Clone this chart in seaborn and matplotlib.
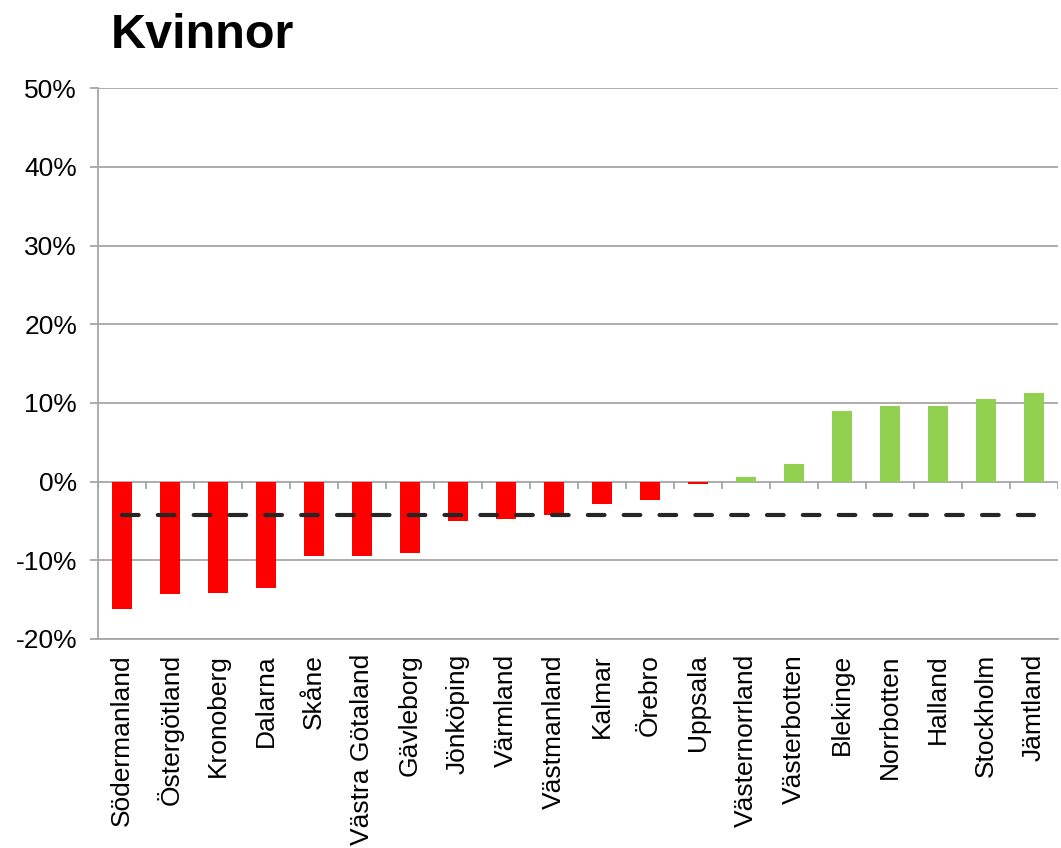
import matplotlib
matplotlib.use("Agg")
import matplotlib.pyplot as plt
import numpy as np
import pandas as pd
import seaborn as sns

# data (change vs. reference, in %)
lan = ["Södermanland", "Östergötland", "Kronoberg", "Dalarna", "Skåne",
       "Västra Götaland", "Gävleborg", "Jönköping", "Värmland", "Västmanland",
       "Kalmar", "Örebro", "Uppsala", "Västernorrland", "Västerbotten",
       "Blekinge", "Norrbotten", "Halland", "Stockholm", "Jämtland"]
andel = [-16.2, -14.3, -14.2, -13.5, -9.5, -9.4, -9.1, -5.0, -4.7, -4.2,
         -2.9, -2.3, -0.3, 0.6, 2.2, 9.0, 9.6, 9.6, 10.5, 11.3]
riket = -4.25
y_ticks = [-20, -10, 0, 10, 20, 30, 40, 50]

sns.set_theme(style="white")
plt.rcParams["font.family"] = ["Liberation Sans", "DejaVu Sans"]
plt.rcParams["text.color"] = "black"

df = pd.DataFrame({"lan": lan, "andel": andel})
df["farg"] = np.where(df["andel"] < 0, "#FF0000", "#92D050")

fig = plt.figure(figsize=(10.61, 8.48), dpi=100)
ax = fig.add_axes([0.0924, 0.2465, 0.9046, 0.6495])

grid_col = "#a6a6a6"
for v in y_ticks:
    ax.axhline(v, color=grid_col, lw=1.3, zorder=0)

sns.barplot(data=df, x="lan", y="andel", hue="lan", palette=list(df["farg"]),
            legend=False, width=0.41, saturation=1, linewidth=0, ax=ax, zorder=2)

# average line across categories
ax.plot([0, len(lan) - 1], [riket, riket], color="#262626", lw=3.0,
        dashes=(4.0, 4.6), dash_capstyle="round", zorder=3)

# category tick marks on the zero line
ax.vlines(np.arange(len(lan) + 1) - 0.5, 0, -1.0, color=grid_col, lw=1.3, zorder=1)

ax.set_xlim(-0.5, len(lan) - 0.5)
ax.set_ylim(-20, 50)
ax.set_yticks(y_ticks)
ax.set_yticklabels([f"{v}%" for v in y_ticks], fontsize=19)
ax.tick_params(axis="y", left=True, length=6, width=1.3, color=grid_col,
               labelcolor="black", pad=9)
ax.tick_params(axis="x", bottom=False, pad=5, labelcolor="black")
ax.set_xticks(range(len(lan)))
ax.set_xticklabels(lan, rotation=90, fontsize=19, va="top")
ax.set_xlabel("")
ax.set_ylabel("")

for s in ["top", "right"]:
    ax.spines[s].set_visible(False)
for s in ["left", "bottom"]:
    ax.spines[s].set_color(grid_col)
    ax.spines[s].set_linewidth(1.3)

fig.text(0.104, 0.958, "Kvinnor", fontsize=35, fontweight="bold", va="center", ha="left")

fig.savefig("out.png", dpi=100)
